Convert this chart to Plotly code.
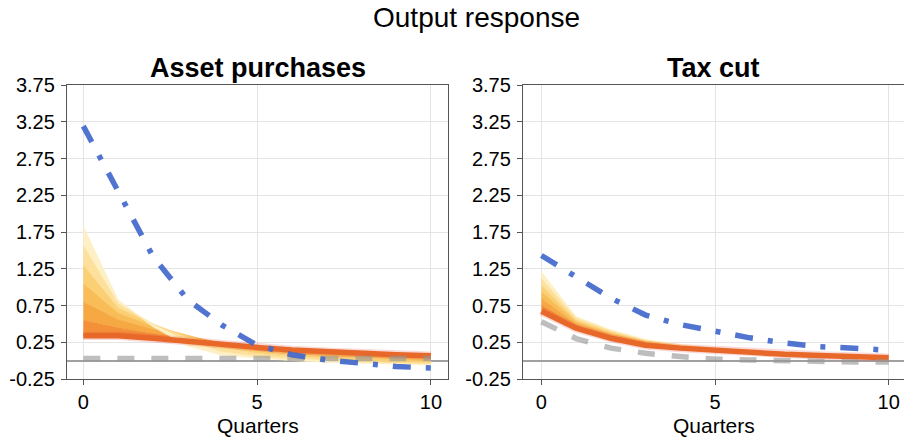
import plotly.graph_objects as go

quarters = [0, 1, 2, 3, 4, 5, 6, 7, 8, 9, 10]

# ---- Asset purchases panel ----
ap_blue = [3.19, 2.30, 1.42, 0.83, 0.48, 0.21, 0.08, 0.01, -0.04, -0.08, -0.10]
ap_gray = [0.03, 0.03, 0.03, 0.03, 0.03, 0.03, 0.03, 0.03, 0.03, 0.03, 0.03]
ap_main = [0.34, 0.34, 0.305, 0.26, 0.21, 0.18, 0.145, 0.12, 0.10, 0.08, 0.065]
ap_fan2 = [0.55, 0.45, 0.37, 0.30, 0.23, 0.18, 0.14, 0.11, 0.085, 0.065, 0.05]
ap_fan3 = [0.80, 0.56, 0.43, 0.33, 0.24, 0.17, 0.12, 0.09, 0.065, 0.045, 0.03]
ap_fan4 = [1.05, 0.65, 0.47, 0.34, 0.22, 0.14, 0.09, 0.06, 0.035, 0.015, 0.0]
ap_fan5 = [1.30, 0.72, 0.50, 0.32, 0.18, 0.10, 0.06, 0.03, 0.005, -0.015, -0.03]
ap_fan6 = [1.57, 0.78, 0.50, 0.27, 0.12, 0.06, 0.025, 0.0, -0.02, -0.035, -0.045]
ap_fan7 = [1.83, 0.83, 0.46, 0.20, 0.07, 0.03, 0.0, -0.025, -0.04, -0.05, -0.06]

# ---- Tax cut panel ----
tc_blue = [1.43, 1.14, 0.85, 0.62, 0.49, 0.40, 0.31, 0.24, 0.19, 0.17, 0.14]
tc_gray = [0.53, 0.30, 0.17, 0.10, 0.055, 0.02, 0.01, -0.005, -0.01, -0.02, -0.02]
tc_main = [0.67, 0.44, 0.305, 0.21, 0.17, 0.14, 0.11, 0.087, 0.07, 0.055, 0.04]
tc_fan2 = [0.76, 0.47, 0.33, 0.23, 0.18, 0.145, 0.115, 0.09, 0.07, 0.055, 0.04]
tc_fan3 = [0.85, 0.50, 0.35, 0.245, 0.19, 0.15, 0.12, 0.09, 0.07, 0.055, 0.04]
tc_fan4 = [0.94, 0.53, 0.37, 0.26, 0.195, 0.155, 0.12, 0.09, 0.07, 0.05, 0.035]
tc_fan5 = [1.03, 0.55, 0.39, 0.27, 0.205, 0.16, 0.12, 0.09, 0.07, 0.05, 0.035]
tc_fan6 = [1.12, 0.58, 0.405, 0.28, 0.21, 0.165, 0.125, 0.095, 0.07, 0.05, 0.03]
tc_fan7 = [1.21, 0.60, 0.42, 0.29, 0.22, 0.17, 0.125, 0.095, 0.07, 0.05, 0.03]

y_ticks = [-0.25, 0.25, 0.75, 1.25, 1.75, 2.25, 2.75, 3.25, 3.75]
y_tick_labels = ["-0.25", "0.25", "0.75", "1.25", "1.75", "2.25", "2.75", "3.25", "3.75"]
x_ticks = [0, 5, 10]
x_tick_labels = ["0", "5", "10"]

band_colors = ["#f39038", "#f6a843", "#f9bd57", "#fbd075", "#fde09b", "#fef0c6"]
ORANGE = "#e8682a"
BLUE = "rgba(66,104,205,0.92)"
GRAY = "rgba(150,150,150,0.62)"
FONT = "Liberation Sans, Arial, Helvetica, sans-serif"

fig = go.Figure()


def add_panel(xa, ya, main, fans, gray, blue):
    lines = [main] + fans
    for i, ys in enumerate(lines):
        kw = {}
        if i > 0:
            kw = dict(fill="tonexty", fillcolor=band_colors[i - 1])
        col = band_colors[max(i - 1, 0)]
        fig.add_trace(go.Scatter(x=quarters, y=ys, mode="lines",
                                 line=dict(color=col, width=0.6),
                                 xaxis=xa, yaxis=ya, showlegend=False,
                                 hoverinfo="skip", **kw))
    fig.add_trace(go.Scatter(x=quarters, y=main, mode="lines",
                             line=dict(color="rgba(225,70,60,0.2)", width=8.5),
                             xaxis=xa, yaxis=ya, showlegend=False, hoverinfo="skip"))
    fig.add_trace(go.Scatter(x=quarters, y=main, mode="lines",
                             line=dict(color=ORANGE, width=5.5),
                             xaxis=xa, yaxis=ya, showlegend=False))
    fig.add_trace(go.Scatter(x=quarters, y=gray, mode="lines",
                             line=dict(color=GRAY, width=5.5, dash="17px,17px"),
                             xaxis=xa, yaxis=ya, showlegend=False))
    fig.add_trace(go.Scatter(x=quarters, y=blue, mode="lines",
                             line=dict(color=BLUE, width=5.5, dash="18px,15px,5px,15px"),
                             xaxis=xa, yaxis=ya, showlegend=False))


add_panel("x", "y", ap_main, [ap_fan2, ap_fan3, ap_fan4, ap_fan5, ap_fan6, ap_fan7], ap_gray, ap_blue)
add_panel("x2", "y2", tc_main, [tc_fan2, tc_fan3, tc_fan4, tc_fan5, tc_fan6, tc_fan7], tc_gray, tc_blue)

W, H = 904, 437
left_dom = [67 / W, 448 / W]
right_dom = [523 / W, 1.0]
y_dom = [1 - 379 / H, 1 - 85 / H]

axis_common = dict(showline=True, linecolor="#555555", linewidth=1.3,
                   showgrid=True, gridcolor="#e4e4e4", gridwidth=1,
                   ticks="outside", ticklen=5, tickcolor="#555555", tickwidth=1,
                   automargin=False,
                   tickfont=dict(family=FONT, size=20, color="#000000"))

fig.update_layout(
    template="none",
    width=W, height=H,
    autosize=False,
    margin=dict(l=0, r=0, t=0, b=0, pad=0),
    paper_bgcolor="white", plot_bgcolor="white",
    showlegend=False,
    xaxis=dict(domain=left_dom, range=[-0.47, 10.49], tickvals=x_ticks, ticktext=x_tick_labels,
               anchor="y", mirror=True, zeroline=False, **axis_common),
    yaxis=dict(domain=y_dom, range=[-0.25, 3.75], tickvals=y_ticks, ticktext=y_tick_labels,
               anchor="x", mirror=True, zeroline=True, zerolinecolor="#a0a0a0", zerolinewidth=1.5,
               ticklabelstandoff=2, **axis_common),
    xaxis2=dict(domain=right_dom, range=[-0.53, 10.44], tickvals=x_ticks, ticktext=x_tick_labels,
                anchor="y2", mirror=True, zeroline=False, **axis_common),
    yaxis2=dict(domain=y_dom, range=[-0.25, 3.75], tickvals=y_ticks, ticktext=y_tick_labels,
                anchor="x2", mirror=False, zeroline=True, zerolinecolor="#a0a0a0", zerolinewidth=1.5,
                ticklabelstandoff=2, **axis_common),
    annotations=[
        dict(text="Output response", x=477 / W, y=1 - 18 / H, xref="paper", yref="paper",
             xanchor="center", yanchor="middle", showarrow=False,
             font=dict(family=FONT, size=28, color="#000000")),
        dict(text="<b>Asset purchases</b>", x=(left_dom[0] + left_dom[1]) / 2, y=1 - 68 / H,
             xref="paper", yref="paper", xanchor="center", yanchor="middle", showarrow=False,
             font=dict(family=FONT, size=27, color="#000000")),
        dict(text="<b>Tax cut</b>", x=(right_dom[0] + right_dom[1]) / 2, y=1 - 68 / H,
             xref="paper", yref="paper", xanchor="center", yanchor="middle", showarrow=False,
             font=dict(family=FONT, size=27, color="#000000")),
        dict(text="Quarters", x=(left_dom[0] + left_dom[1]) / 2, y=1 - 425 / H,
             xref="paper", yref="paper", xanchor="center", yanchor="middle", showarrow=False,
             font=dict(family=FONT, size=21, color="#000000")),
        dict(text="Quarters", x=(right_dom[0] + right_dom[1]) / 2, y=1 - 425 / H,
             xref="paper", yref="paper", xanchor="center", yanchor="middle", showarrow=False,
             font=dict(family=FONT, size=21, color="#000000")),
    ],
)

fig.write_html("out.html", config={"displayModeBar": False},
               post_script="document.body.style.margin='0px';")
